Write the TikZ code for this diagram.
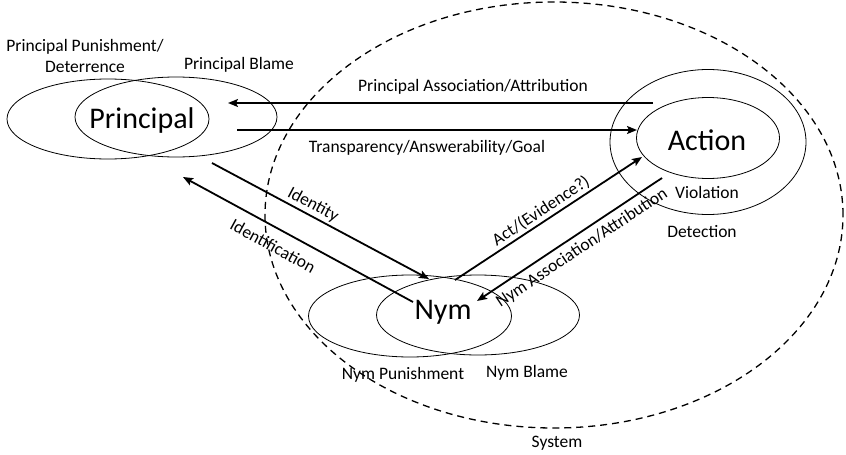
\documentclass[tikz,border=0pt]{standalone}
\usepackage{fontspec}
\setmainfont{Carlito}
\usetikzlibrary{shapes.geometric,arrows.meta}
\begin{document}
\begin{tikzpicture}[x=1pt,y=-1pt,
  oval/.style={draw,ellipse,line width=0.8pt,inner sep=0pt},
  conn/.style={line width=1.8pt,-{Stealth[length=10pt,width=8pt,inset=2pt]}},
  lbl/.style={font=\fontsize{17.5}{21}\selectfont,inner sep=0pt},
  big/.style={font=\fontsize{30}{34}\selectfont,inner sep=0pt}]
\useasboundingbox (0,0) rectangle (846,455);
% system
\node[draw,ellipse,dashed,dash pattern=on 7pt off 5pt,line width=1.3pt,minimum width=578pt,minimum height=426pt,inner sep=0pt] (sys) at (554,215) {};
\node[lbl] (systxt) at (557,443) {System};
% principal
\node[oval,minimum width=202pt,minimum height=80pt] (ppun) at (108,119) {};
\node[oval,minimum width=202pt,minimum height=80pt] (pbl) at (176,117) {};
\node[big] (principal) at (142,120) {Principal};
\node[lbl,align=center] (ppuntxt) at (85,56) {Principal Punishment/\\Deterrence};
\node[lbl] (pbltxt) at (239,65) {Principal Blame};
% nym
\node[oval,minimum width=203pt,minimum height=82pt] (npun) at (410,316) {};
\node[oval,minimum width=203pt,minimum height=80pt] (nbl) at (478,315) {};
\node[big] (nym) at (443,312) {Nym};
\node[lbl] (npuntxt) at (403,375) {Nym Punishment};
\node[lbl] (nbltxt) at (527,373) {Nym Blame};
% action
\node[oval,minimum width=196pt,minimum height=145pt] (detect) at (708,142) {};
\node[oval,minimum width=143pt,minimum height=81pt] (action) at (708,138) {};
\node[big] (actiontxt) at (707,140) {Action};
\node[lbl] (viol) at (707,192) {Violation};
\node[lbl] (dettxt) at (702,232) {Detection};
% connector end points
\coordinate (a1s) at (653,103); \coordinate (a1e) at (228,103);
\coordinate (a2s) at (237,130); \coordinate (a2e) at (637,130);
\coordinate (a3s) at (212,163); \coordinate (a3e) at (429,279);
\coordinate (a4s) at (413,302); \coordinate (a4e) at (183,177);
\coordinate (a5s) at (455,280); \coordinate (a5e) at (642,157);
\coordinate (a6s) at (662,178); \coordinate (a6e) at (477,301);
\draw[conn] (a1s) -- (a1e);
\draw[conn] (a2s) -- (a2e);
\draw[conn] (a3s) -- (a3e);
\draw[conn] (a4s) -- (a4e);
\draw[conn] (a5s) -- (a5e);
\draw[conn] (a6s) -- (a6e);
% labels
\node[lbl] (l1) at (473,87) {Principal Association/Attribution};
\node[lbl] (l2) at (427,148) {Transparency/Answerability/Goal};
\node[lbl,rotate=-28] (l3) at (313,205) {Identity};
\node[lbl,rotate=-28.5] (l4) at (273,246) {Identification};
\node[lbl,rotate=33.3] (l5) at (541,211) {Act/(Evidence?)};
\node[lbl,rotate=33.6] (l6) at (582,248) {Nym Association/Attribution};
\end{tikzpicture}
\end{document}
